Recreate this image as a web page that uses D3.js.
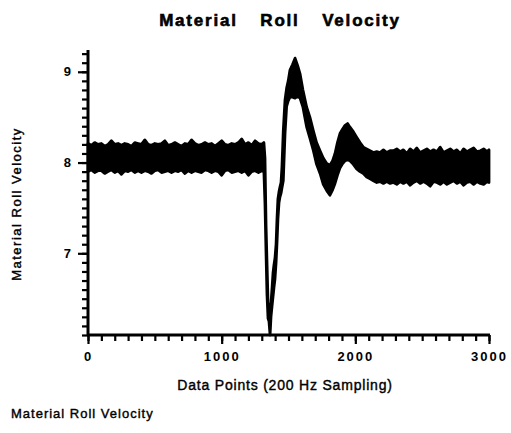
<!DOCTYPE html>
<html>
<head>
<meta charset="utf-8">
<script src="https://cdn.jsdelivr.net/npm/d3@7"></script>
<style>
	body { margin: 0; background: #fff; }
	svg { display: block; font-family: "Liberation Sans", Arial, sans-serif; }
	.axis path, .axis line { stroke: #000; }
	.axis text { font-family: "Liberation Sans", Arial, sans-serif; }
</style>
</head>
<body>
<svg id="chart" width="511" height="433"></svg>
<script>
// sample positions (data point index) and the upper / lower edge of the noisy trace
var sampleX = [
	0,25,50,75,100,125,150,175,200,225,250,275,300,325,350,375,400,425,450,475,
	500,525,550,575,600,625,650,675,700,725,750,775,800,825,850,875,900,925,950,975,
	1000,1025,1050,1075,1100,1125,1150,1175,1200,1225,1250,1275,1300,
	1316,1324,1332,1339,1347,1354,1362,1369,1377,1384,1391,1399,1407,1414,1421,1429,
	1436,1444,1451,1461,1474,1486,1498,1511,1530,1549,1568,1586,1608,1636,1660,1686,
	1710,1736,1760,1786,1810,1830,1848,1866,1885,1905,1923,1942,1960,1985,2010,2035,
	2060,2085,2110,2135,2160,2184,2210,2235,2260,
	2285,2310,2335,2360,2385,2410,2435,2460,2485,2510,2535,2560,2585,2610,2635,2660,
	2685,2710,2735,2760,2785,2810,2835,2860,2885,2910,2935,2960,2985,3000
];
var upper = [
	8.21,8.19,8.22,8.20,8.21,8.18,8.20,8.24,8.20,8.21,8.19,8.21,8.20,8.18,8.22,8.21,8.20,8.25,8.20,8.19,
	8.21,8.20,8.21,8.24,8.19,8.20,8.22,8.20,8.18,8.21,8.20,8.25,8.21,8.19,8.20,8.22,8.20,8.21,8.18,8.21,
	8.24,8.20,8.19,8.21,8.20,8.22,8.26,8.20,8.22,8.19,8.24,8.21,8.20,
	8.22,8.05,7.30,6.90,6.45,6.38,6.35,6.45,6.62,6.78,6.87,6.95,7.10,7.38,7.60,7.68,
	7.73,7.78,7.95,8.35,8.69,8.82,8.90,9.02,9.08,9.15,9.07,8.98,8.80,8.61,8.50,8.35,
	8.22,8.13,8.05,7.99,7.97,8.02,8.10,8.22,8.32,8.37,8.41,8.43,8.39,8.34,8.28,8.22,
	8.17,8.15,8.13,8.11,8.12,8.11,8.14,8.11,8.13,
	8.13,8.15,8.12,8.14,8.10,8.15,8.12,8.16,8.11,8.13,8.15,8.12,8.14,8.12,8.17,8.11,
	8.13,8.15,8.12,8.14,8.10,8.15,8.12,8.14,8.16,8.12,8.13,8.15,8.12,8.14
];
var lower = [
	7.90,7.92,7.89,7.91,7.91,7.88,7.90,7.92,7.89,7.91,7.87,7.91,7.90,7.92,7.89,7.91,7.89,7.91,7.90,7.88,
	7.91,7.92,7.89,7.90,7.91,7.89,7.91,7.90,7.92,7.88,7.91,7.89,7.91,7.90,7.89,7.92,7.91,7.89,7.91,7.90,
	7.86,7.91,7.92,7.89,7.90,7.91,7.89,7.91,7.86,7.90,7.91,7.89,7.91,
	7.90,7.55,7.00,6.55,6.28,6.25,6.10,6.30,6.42,6.52,6.62,6.72,6.90,7.12,7.38,7.56,
	7.62,7.66,7.72,7.80,8.32,8.62,8.68,8.72,8.72,8.71,8.73,8.71,8.61,8.39,8.27,8.13,
	7.98,7.88,7.76,7.69,7.64,7.70,7.77,7.86,7.94,7.99,8.02,8.03,8.02,7.98,7.93,7.90,
	7.88,7.84,7.82,7.80,7.78,7.79,7.77,7.79,7.77,
	7.78,7.76,7.79,7.77,7.79,7.75,7.78,7.80,7.77,7.79,7.77,7.74,7.79,7.78,7.76,7.79,
	7.76,7.78,7.80,7.77,7.79,7.75,7.78,7.79,7.76,7.79,7.77,7.76,7.79,7.78
];
var xMajor = [0, 1000, 2000, 3000];
var yMajor = [7, 8, 9];

var svg = d3.select("#chart");

var x = d3.scaleLinear().domain([0, 3000]).range([88, 489]);
var y = d3.scaleLinear().domain([6.1, 9.24]).range([335, 50]);

var data = sampleX.map(function(d, i) { return {x: d, hi: upper[i], lo: lower[i]}; });

// the trace: filled band between both edges
var area = d3.area()
	.x(function(d) { return x(d.x); })
	.y0(function(d) { return y(d.lo); })
	.y1(function(d) { return y(d.hi); });

svg.append("path")
	.datum(data)
	.attr("d", area)
	.style("fill", "#000")
	.style("stroke", "#000")
	.style("stroke-width", 2.8)
	.style("stroke-linejoin", "round");

// minor ticks
var yMinor = d3.range(61, 93).map(function(d) { return d / 10; });
var xMinor = d3.range(0, 31).map(function(d) { return d * 100; });

svg.append("g")
	.attr("class", "axis")
	.attr("transform", "translate(88,0)")
	.call(d3.axisLeft(y).tickValues(yMinor).tickSize(6).tickFormat(""))
	.call(function(g) {
		g.select(".domain").attr("d", "M0," + 50 + "V" + 336).style("stroke-width", 3);
		g.selectAll(".tick line").style("stroke-width", 2.2);
	});

svg.append("g")
	.attr("class", "axis")
	.attr("transform", "translate(0,335)")
	.call(d3.axisBottom(x).tickValues(xMinor).tickSize(6).tickFormat(""))
	.call(function(g) {
		g.select(".domain").attr("d", "M87,0H490").style("stroke-width", 3);
		g.selectAll(".tick line").style("stroke-width", 2.2);
	});

// major ticks and labels
svg.append("g")
	.attr("class", "axis")
	.attr("transform", "translate(88,0)")
	.call(d3.axisLeft(y).tickValues(yMajor).tickSize(10).tickPadding(7).tickFormat(d3.format("d")))
	.call(function(g) {
		g.select(".domain").remove();
		g.selectAll(".tick line").style("stroke-width", 2.2);
		g.selectAll(".tick text").style("font-size", "13px").style("font-weight", "bold");
	});

svg.append("g")
	.attr("class", "axis")
	.attr("transform", "translate(0,335)")
	.call(d3.axisBottom(x).tickValues(xMajor).tickSize(9).tickPadding(8).tickFormat(d3.format("d")))
	.call(function(g) {
		g.select(".domain").remove();
		g.selectAll(".tick line").style("stroke-width", 2.2);
		g.selectAll(".tick text").style("font-size", "13px").style("font-weight", "bold")
			.style("letter-spacing", "2px");
	});

// titles
svg.append("text")
	.attr("x", 280).attr("y", 26)
	.attr("text-anchor", "middle")
	.style("font-size", "17px").style("font-weight", "bold")
	.style("letter-spacing", "1.8px").style("word-spacing", "16px")
	.style("stroke", "#000").style("stroke-width", 0.6)
	.text("Material Roll Velocity");

svg.append("text")
	.attr("transform", "translate(21,204) rotate(-90)")
	.attr("text-anchor", "middle")
	.style("font-size", "13px").style("letter-spacing", "1.5px")
	.style("stroke", "#000").style("stroke-width", 0.4)
	.text("Material Roll Velocity");

svg.append("text")
	.attr("x", 285).attr("y", 390)
	.attr("text-anchor", "middle")
	.style("font-size", "14px").style("letter-spacing", "0.8px")
	.style("stroke", "#000").style("stroke-width", 0.4)
	.text("Data Points (200 Hz Sampling)");

svg.append("text")
	.attr("x", 11).attr("y", 418)
	.style("font-size", "13px").style("letter-spacing", "1px")
	.style("stroke", "#000").style("stroke-width", 0.4)
	.text("Material Roll Velocity");
</script>
</body>
</html>
